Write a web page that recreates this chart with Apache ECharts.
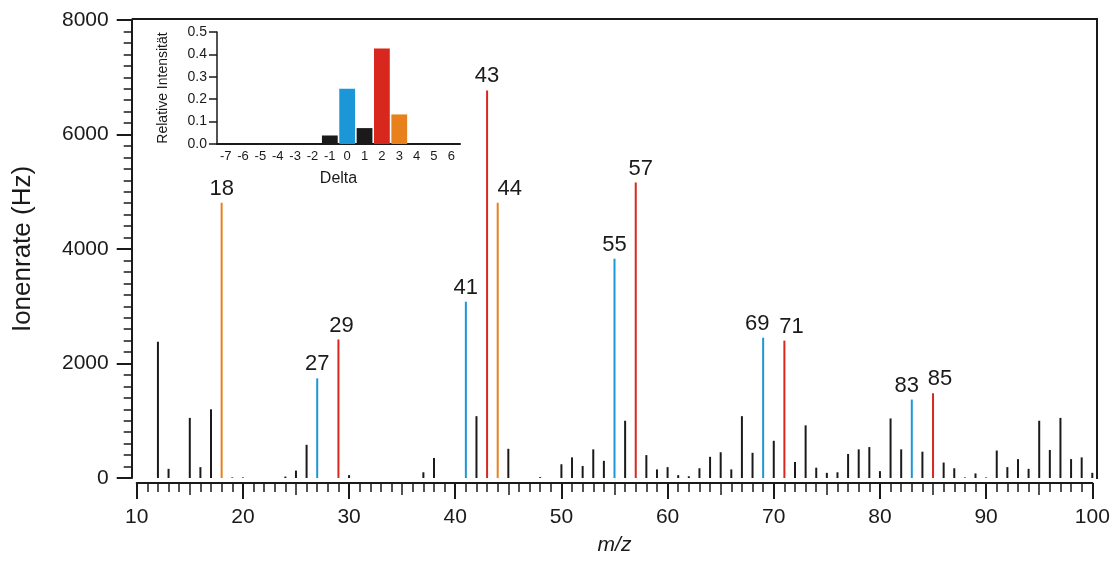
<!DOCTYPE html>
<html>
<head>
<meta charset="utf-8">
<script src="https://cdn.jsdelivr.net/npm/echarts@6/dist/echarts.min.js"></script>
<style>
html, body { margin: 0; padding: 0; background: #fff; }
#main { width: 1113px; height: 563px; }
</style>
</head>
<body>
<div id="main"></div>
<script>
// Massenspektrum: schwarze Peaks
var mzBlack = [12, 13, 15, 16, 17, 19, 20, 24, 25, 26, 30, 37, 38, 42, 45, 48, 50, 51, 52, 53, 54,
	56, 58, 59, 60, 61, 62, 63, 64, 65, 66, 67, 68, 70, 72, 73, 74, 75, 76, 77, 78, 79, 80, 81, 82,
	84, 86, 87, 88, 89, 90, 91, 92, 93, 94, 95, 96, 97, 98, 99, 100];
var ionBlack = [2380, 160, 1050, 190, 1200, 10, 10, 25, 130, 580, 50, 100, 350, 1080, 510, 15, 240, 360, 210, 500, 300,
	1000, 400, 150, 190, 50, 30, 170, 370, 450, 150, 1080, 440, 650, 280, 920, 180, 90, 100, 420, 500, 540, 120, 1040, 500,
	460, 270, 170, 10, 80, 10, 480, 190, 330, 160, 1000, 490, 1050, 330, 360, 90];

// farbige Peaks (beschriftet)
var mzBlue = [27, 41, 55, 69, 83];
var ionBlue = [1740, 3080, 3830, 2450, 1370];
var mzRed = [29, 43, 57, 71, 85];
var ionRed = [2420, 6770, 5160, 2400, 1480];
var mzOrange = [18, 44];
var ionOrange = [4810, 4810];

// Inset
var deltaLabels = ['-7', '-6', '-5', '-4', '-3', '-2', '-1', '0', '1', '2', '3', '4', '5', '6'];
var deltaValues = [0, 0, 0, 0, 0, 0, 0.038, 0.247, 0.071, 0.426, 0.132, 0, 0, 0];

var FONT = 'Liberation Sans';
var INK = '#1a1a1a';
var COLORS = { black: '#1a1a1a', blue: '#1b96d6', red: '#d8271d', orange: '#e8801c' };
var deltaColor = { '0': COLORS.blue, '2': COLORS.red, '3': COLORS.orange };
// kleine Verschiebung einzelner Beschriftungen (px)
var labelShift = { 29: 3, 44: 12, 57: 5, 69: -6, 71: 7, 83: -5, 85: 7 };

function items(mz, vals, color, labelled) {
	return mz.map(function (m, i) {
		var it = { value: [m, vals[i]], itemStyle: { color: color } };
		if (labelled) {
			it.label = { show: true, offset: [labelShift[m] || 0, 0] };
		}
		return it;
	});
}

var barData = items(mzBlack, ionBlack, COLORS.black, false)
	.concat(items(mzOrange, ionOrange, COLORS.orange, true))
	.concat(items(mzBlue, ionBlue, COLORS.blue, true))
	.concat(items(mzRed, ionRed, COLORS.red, true));

var insetData = deltaValues.map(function (v, i) {
	return { value: v, itemStyle: { color: deltaColor[deltaLabels[i]] || COLORS.black } };
});

var myChart = echarts.init(document.getElementById('main'));
myChart.setOption({
	animation: false,
	textStyle: { fontFamily: FONT, color: INK },
	grid: [
		{ left: 136.7, right: 20.7, top: 20, bottom: 85 },
		{ left: 217, top: 32, width: 243, height: 112 }
	],
	xAxis: [
		{
			gridIndex: 0,
			type: 'value',
			position: 'bottom',
			min: 10, max: 100, interval: 10,
			offset: 5,
			name: 'm/z',
			nameLocation: 'middle',
			nameGap: 52,
			nameTextStyle: { fontSize: 21, fontStyle: 'italic', fontFamily: FONT, color: INK },
			axisLine: { show: true, onZero: false, lineStyle: { color: INK, width: 2 } },
			axisTick: { show: true, length: 16, lineStyle: { color: INK, width: 2 } },
			minorTick: { show: true, splitNumber: 10, length: 9, lineStyle: { color: INK, width: 1.5 } },
			axisLabel: { fontSize: 21, margin: 24, color: INK, fontFamily: FONT },
			splitLine: { show: false }
		},
		{
			// mittlere Striche bei 5er-Schritten
			gridIndex: 0,
			type: 'value',
			position: 'bottom',
			min: 10, max: 100, interval: 5,
			offset: 5,
			axisLine: { show: false, onZero: false },
			axisTick: { show: true, length: 12, lineStyle: { color: INK, width: 1.5 } },
			axisLabel: { show: false },
			splitLine: { show: false }
		},
		{
			gridIndex: 1,
			type: 'category',
			data: deltaLabels,
			name: 'Delta',
			nameLocation: 'middle',
			nameGap: 27,
			nameTextStyle: { fontSize: 16, fontFamily: FONT, color: INK },
			axisLine: { lineStyle: { color: INK, width: 2 } },
			axisTick: { show: false },
			axisLabel: { fontSize: 13, margin: 6, color: INK, fontFamily: FONT, interval: 0 },
			splitLine: { show: false }
		}
	],
	yAxis: [
		{
			gridIndex: 0,
			type: 'value',
			min: 0, max: 8000, interval: 2000,
			offset: 5,
			name: 'Ionenrate (Hz)',
			nameLocation: 'middle',
			nameGap: 96,
			nameTextStyle: { fontSize: 26, fontFamily: FONT, color: INK },
			axisLine: { show: true, onZero: false, lineStyle: { color: INK, width: 2 } },
			axisTick: { show: true, length: 15, lineStyle: { color: INK, width: 2 } },
			minorTick: { show: true, splitNumber: 10, length: 8, lineStyle: { color: INK, width: 1.5 } },
			axisLabel: {
				fontSize: 21, margin: 23, color: INK, fontFamily: FONT,
				formatter: function (v) { return String(v); }
			},
			splitLine: { show: false }
		},
		{
			gridIndex: 1,
			type: 'value',
			min: 0, max: 0.5, interval: 0.1,
			name: 'Relative Intensität',
			nameLocation: 'middle',
			nameGap: 47,
			nameTextStyle: { fontSize: 14, fontFamily: FONT, color: INK },
			axisLine: { show: true, lineStyle: { color: INK, width: 1.5 } },
			axisTick: { show: true, length: 8, lineStyle: { color: INK, width: 1.5 } },
			axisLabel: {
				fontSize: 14, margin: 10, color: INK, fontFamily: FONT,
				formatter: function (v) { return v.toFixed(1); }
			},
			splitLine: { show: false }
		}
	],
	graphic: [{
		type: 'polyline',
		shape: { points: [[131.7, 19], [1097, 19], [1097, 479]] },
		style: { stroke: INK, lineWidth: 2, fill: null },
		silent: true
	}],
	series: [
		{
			type: 'bar',
			xAxisIndex: 0,
			yAxisIndex: 0,
			barWidth: 2,
			data: barData,
			label: {
				show: false,
				position: 'top',
				distance: 3,
				fontSize: 22,
				color: INK,
				fontFamily: FONT,
				formatter: function (p) { return p.value[0]; }
			}
		},
		{
			type: 'bar',
			xAxisIndex: 2,
			yAxisIndex: 1,
			barCategoryGap: '9%',
			data: insetData
		}
	]
});
</script>
</body>
</html>
